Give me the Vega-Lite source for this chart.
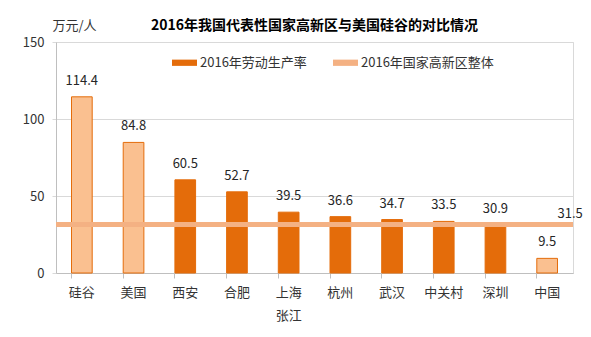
{
  "$schema": "https://vega.github.io/schema/vega-lite/v6.json",
  "width": 517,
  "height": 231,
  "autosize": {"type": "none"},
  "padding": {"left": 56, "top": 42, "right": 18, "bottom": 64},
  "background": "white",
  "config": {
    "font": "Noto Sans CJK SC",
    "view": {"stroke": "#D9D9D9", "strokeWidth": 1},
    "axis": {"labelFont": "Noto Sans CJK SC", "titleFont": "Noto Sans CJK SC"}
  },
  "title": {
    "text": "2016年我国代表性国家高新区与美国硅谷的对比情况",
    "font": "Noto Sans CJK SC",
    "fontSize": 14,
    "fontWeight": "bold",
    "color": "#000000",
    "anchor": "middle",
    "frame": "group",
    "baseline": "bottom",
    "offset": 12,
    "dy": 40
  },
  "datasets": {
    "bars": [
      {"name": "硅谷", "value": 114.4, "light": true, "series": "2016年劳动生产率"},
      {"name": "美国", "value": 84.8, "light": true, "series": "2016年劳动生产率"},
      {"name": "西安", "value": 60.5, "light": false, "series": "2016年劳动生产率"},
      {"name": "合肥", "value": 52.7, "light": false, "series": "2016年劳动生产率"},
      {"name": "上海张江", "value": 39.5, "light": false, "series": "2016年劳动生产率"},
      {"name": "杭州", "value": 36.6, "light": false, "series": "2016年劳动生产率"},
      {"name": "武汉", "value": 34.7, "light": false, "series": "2016年劳动生产率"},
      {"name": "中关村", "value": 33.5, "light": false, "series": "2016年劳动生产率"},
      {"name": "深圳", "value": 30.9, "light": false, "series": "2016年劳动生产率"},
      {"name": "中国", "value": 9.5, "light": true, "series": "2016年劳动生产率"}
    ],
    "line": [
      {"name": "中国", "value": 31.5, "series": "2016年国家高新区整体"}
    ]
  },
  "layer": [
    {
      "data": {"name": "bars"},
      "mark": {"type": "bar", "stroke": "#E46C0A", "strokeWidth": 1},
      "encoding": {
        "x": {
          "field": "name",
          "type": "nominal",
          "sort": null,
          "scale": {"paddingInner": 0.6, "paddingOuter": 0.3},
          "axis": {
            "title": null,
            "labelAngle": 0,
            "labelFontSize": 13,
            "labelColor": "#333333",
            "labelPadding": 8,
            "labelBaseline": "top",
            "labelLineHeight": 23,
            "labelExpr": "datum.label == '上海张江' ? ['上海', '张江'] : datum.label",
            "bandPosition": 0,
            "ticks": true,
            "tickSize": 5,
            "tickColor": "#BFBFBF",
            "domainColor": "#BFBFBF",
            "grid": false
          }
        },
        "y": {
          "field": "value",
          "type": "quantitative",
          "scale": {"domain": [0, 150], "nice": false},
          "axis": {
            "values": [0, 50, 100, 150],
            "title": "万元/人",
            "titleAngle": 0,
            "titleAlign": "left",
            "titleBaseline": "middle",
            "titleX": -4,
            "titleY": -17,
            "titleFontSize": 13,
            "titleFontWeight": "normal",
            "titleColor": "#333333",
            "labelFontSize": 13,
            "labelColor": "#333333",
            "labelPadding": 8,
            "tickSize": 4,
            "tickColor": "#D9D9D9",
            "domainColor": "#BFBFBF",
            "gridColor": "#D9D9D9"
          }
        },
        "color": {
          "condition": {"test": "datum.light", "value": "#FAC090"},
          "field": "series",
          "type": "nominal",
          "scale": {
            "domain": ["2016年劳动生产率", "2016年国家高新区整体"],
            "range": ["#E46C0A", "#F4B183"]
          },
          "legend": {
            "title": null,
            "orient": "none",
            "legendX": 116,
            "legendY": 8,
            "direction": "horizontal",
            "columns": 2,
            "columnPadding": 26,
            "padding": 0,
            "symbolType": "M-1,-0.25H1V0.25H-1Z",
            "symbolSize": 625,
            "symbolStrokeWidth": 0,
            "labelFontSize": 13,
            "labelColor": "#333333",
            "labelOffset": 3,
            "labelFont": "Noto Sans CJK SC",
            "encode": {
              "symbols": {
                "update": {
                  "fill": {"scale": "color", "field": "value"},
                  "opacity": {"value": 1}
                }
              }
            }
          }
        }
      }
    },
    {
      "data": {"name": "bars"},
      "mark": {"type": "text", "baseline": "bottom", "dy": -9, "fontSize": 13, "color": "#262626"},
      "encoding": {
        "x": {"field": "name", "type": "nominal", "sort": null},
        "y": {"field": "value", "type": "quantitative"},
        "text": {"field": "value", "type": "quantitative", "format": ".1f"}
      }
    },
    {
      "data": {"name": "line"},
      "mark": {"type": "rule", "strokeWidth": 5},
      "encoding": {
        "y": {"field": "value", "type": "quantitative"},
        "color": {"field": "series", "type": "nominal"}
      }
    },
    {
      "data": {"name": "line"},
      "mark": {"type": "text", "baseline": "bottom", "dx": 23, "dy": -3, "fontSize": 13, "color": "#262626"},
      "encoding": {
        "x": {"field": "name", "type": "nominal", "sort": null},
        "y": {"field": "value", "type": "quantitative"},
        "text": {"field": "value", "type": "quantitative", "format": ".1f"}
      }
    }
  ]
}
